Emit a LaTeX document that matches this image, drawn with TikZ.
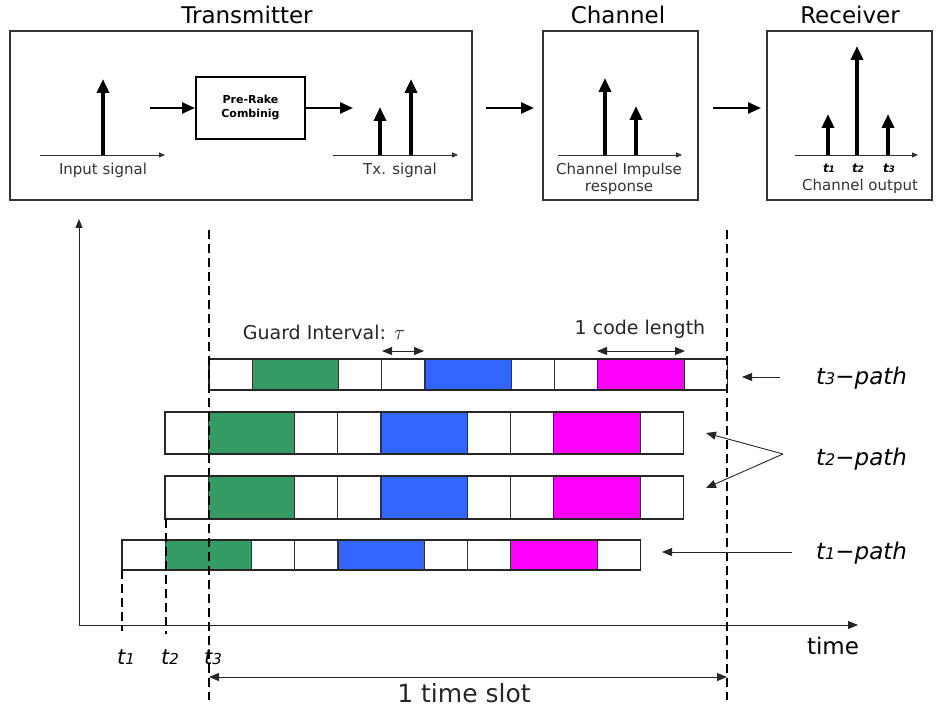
\documentclass[tikz,border=0pt]{standalone}
\usepackage{fontspec}
\setmainfont{DejaVu Sans}
\usetikzlibrary{arrows.meta}
\definecolor{grn}{RGB}{53,155,101}
\definecolor{blu}{RGB}{51,102,255}
\definecolor{mag}{RGB}{255,0,255}
\tikzset{
  frame/.style={draw=black!80,line width=1.2pt},
  title/.style={font=\fontsize{23}{25}\selectfont,inner sep=0pt},
  small/.style={font=\fontsize{15}{17}\selectfont,text=black!80,inner sep=0pt},
  axis/.style={line width=0.8pt,black!80,-{Triangle[length=6,width=5]}},
  stick/.style={line width=3.5pt,-{Triangle[length=14,width=12]}},
  flow/.style={line width=2.5pt,-{Triangle[length=13,width=11]}},
  cell/.style={draw=black!80,line width=1.3pt},
  vdash/.style={line width=1.8pt,dash pattern=on 9pt off 5pt},
  thin/.style={line width=0.9pt,black!85},
  tlab/.style={font=\fontsize{21}{23}\selectfont\itshape,inner sep=0pt},
  plab/.style={font=\fontsize{23}{25}\selectfont\itshape,inner sep=0pt,anchor=west}
}
\newcommand\cellrow[3]{%
  \foreach \a/\b/\c in {0/1/white,1/3/grn,3/4/white,4/5/white,5/7/blu,7/8/white,8/9/white,9/11/mag,11/12/white}{
    \draw[cell,fill=\c] ({#1+\a*43.2},#2) rectangle ({#1+\b*43.2},#3);
  }
  \draw[line width=1.8pt,black!85] (#1,#2) rectangle ({#1+12*43.2},#3);
}
% t with a small digit on the baseline: #1 digit size, #2 digit
\newcommand\tsub[2]{t{\fontsize{#1}{#1}\selectfont #2}}
\begin{document}
\begin{tikzpicture}[x=1pt,y=-1pt]
\useasboundingbox (0,0) rectangle (940,708);
% ---- top blocks
\node[title] (ttx) at (247,15) {Transmitter};
\node[title] (tch) at (618,15) {Channel};
\node[title] (trx) at (850,15) {Receiver};
\node[frame,minimum width=462,minimum height=169,inner sep=0pt] (tx) at (241,115.5) {};
\node[frame,minimum width=155,minimum height=169,inner sep=0pt] (ch) at (620.5,115.5) {};
\node[frame,minimum width=165,minimum height=169,inner sep=0pt] (rx) at (849.5,115.5) {};
% transmitter inside
\coordinate (ia0) at (40,155); \coordinate (ia1) at (165,155);
\draw[axis] (ia0) -- (ia1);
\draw[stick] (103,155) -- (103,79);
\node[small] (isig) at (103,170) {Input signal};
\node[draw,line width=2pt,minimum width=109,minimum height=62,inner sep=0pt,
      font=\fontsize{11}{14}\selectfont\bfseries,align=center] (prc) at (250.5,108) {Pre-Rake\\Combinig};
\coordinate (fa0) at (150,108);
\draw[flow] (fa0) -- (prc.west);
\coordinate (fb1) at (353,108);
\draw[flow] (prc.east) -- (fb1);
\coordinate (ta0) at (333,155); \coordinate (ta1) at (458,155);
\draw[axis] (ta0) -- (ta1);
\draw[stick] (380,155) -- (380,107);
\draw[stick] (411,155) -- (411,79);
\node[small] (txsig) at (400,170) {Tx. signal};
% arrows between blocks
\coordinate (fc0) at (486,108); \coordinate (fc1) at (534,108);
\draw[flow] (fc0) -- (fc1);
\coordinate (fd0) at (713,108); \coordinate (fd1) at (761,108);
\draw[flow] (fd0) -- (fd1);
% channel inside
\coordinate (ca0) at (558,155); \coordinate (ca1) at (682,155);
\draw[axis] (ca0) -- (ca1);
\draw[stick] (605,155) -- (605,78);
\draw[stick] (636,155) -- (636,106);
\node[small] (cir1) at (619,170) {Channel Impulse};
\node[small] (cir2) at (619,189) {response};
% receiver inside
\coordinate (ra0) at (795,155); \coordinate (ra1) at (918,155);
\draw[axis] (ra0) -- (ra1);
\draw[stick] (828,155) -- (828,114);
\draw[stick] (857,155) -- (857,46);
\draw[stick] (888,155) -- (888,114);
\node[font=\fontsize{12}{13}\selectfont\bfseries\itshape,inner sep=0pt] (r1) at (829,168) {\tsub{9}{1}};
\node[font=\fontsize{12}{13}\selectfont\bfseries\itshape,inner sep=0pt] (r2) at (858,168) {\tsub{9}{2}};
\node[font=\fontsize{12}{13}\selectfont\bfseries\itshape,inner sep=0pt] (r3) at (889,168) {\tsub{9}{3}};
\node[small] (cout) at (860,186) {Channel output};
% ---- main plot axes
\coordinate (o) at (79,625);
\coordinate (ytop) at (79,219);
\coordinate (xend) at (858,625);
\draw[line width=1pt,black!85,-{Triangle[length=9,width=7]}] (o) -- (ytop);
\draw[line width=1pt,black!85,-{Triangle[length=10,width=8]}] (o) -- (xend);
\node[font=\fontsize{23}{25}\selectfont,inner sep=0pt] (time) at (833,646) {time};
% rows
\cellrow{209}{359}{390}
\cellrow{165}{412}{454}
\cellrow{165}{476}{519}
\cellrow{122}{540}{570}
% dashed lines
\draw[vdash] (209,230) -- (209,700);
\draw[vdash] (727,230) -- (727,700);
\draw[vdash] (122,570) -- (122,631);
\draw[vdash] (166,519) -- (166,634);
% bottom labels
\node[tlab] (l1) at (126,657) {\tsub{15}{1}};
\node[tlab] (l2) at (170,657) {\tsub{15}{2}};
\node[tlab] (l3) at (213,657) {\tsub{15}{3}};
\coordinate (s0) at (209,677); \coordinate (s1) at (727,677);
\draw[thin,{Triangle[length=10,width=8]}-{Triangle[length=10,width=8]}] (s0) -- (s1);
\node[font=\fontsize{25}{27}\selectfont,inner sep=0pt,text=black!85] (slot) at (464,693) {1 time slot};
% guard / code length
\node[font=\fontsize{19}{21}\selectfont,inner sep=0pt,text=black!85] (gi) at (324,332) {Guard Interval: \fontsize{22}{22}\selectfont$\tau$};
\coordinate (g0) at (382,351); \coordinate (g1) at (424,351);
\draw[thin,{Triangle[length=10,width=8]}-{Triangle[length=10,width=8]}] (g0) -- (g1);
\node[font=\fontsize{19}{21}\selectfont,inner sep=0pt,text=black!85] (cl) at (640,329) {1 code length};
\coordinate (c0) at (597,351); \coordinate (c1) at (685,351);
\draw[thin,{Triangle[length=10,width=8]}-{Triangle[length=10,width=8]}] (c0) -- (c1);
% path labels
\node[plab] (p3) at (816,378) {\tsub{16}{3}−path};
\node[plab] (p2) at (816,459) {\tsub{16}{2}−path};
\node[plab] (p1) at (816,553) {\tsub{16}{1}−path};
\coordinate (a3s) at (780,377); \coordinate (a3e) at (742,377);
\draw[thin,-{Triangle[length=10,width=8]}] (a3s) -- (a3e);
\coordinate (a2s) at (783,454);
\coordinate (a2e) at (706,433); \coordinate (a2f) at (706,488);
\draw[thin,-{Triangle[length=10,width=8]}] (a2s) -- (a2e);
\draw[thin,-{Triangle[length=10,width=8]}] (a2s) -- (a2f);
\coordinate (a1s) at (792,552); \coordinate (a1e) at (662,552);
\draw[thin,-{Triangle[length=10,width=8]}] (a1s) -- (a1e);
\end{tikzpicture}
\end{document}
